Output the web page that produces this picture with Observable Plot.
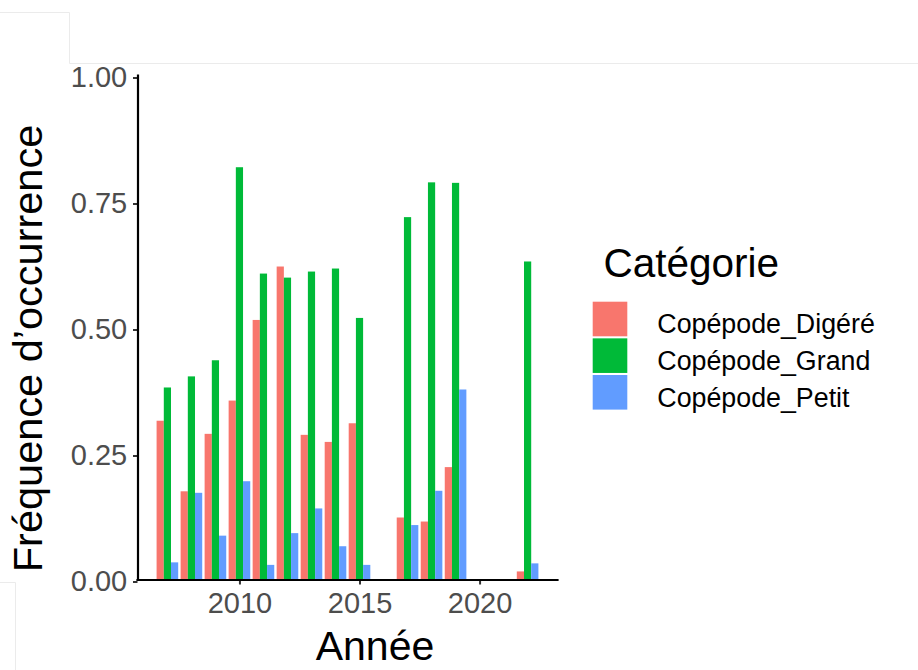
<!DOCTYPE html>
<html>
<head>
<meta charset="utf-8">
<script src="https://cdn.jsdelivr.net/npm/d3@7"></script>
<script src="https://cdn.jsdelivr.net/npm/@observablehq/plot@0.6"></script>
<style>
  html, body { margin: 0; padding: 0; background: #fff; }
  #chart { position: relative; width: 918px; height: 670px; overflow: hidden;
           font-family: "Liberation Sans", Arial, sans-serif; }
  #chart > svg { position: absolute; left: 0; top: 0; }
</style>
</head>
<body>
<div id="chart"></div>
<script>
// Fréquence d'occurrence des copépodes par année et par catégorie
const years = [2007, 2008, 2009, 2010, 2011, 2012, 2013, 2014, 2015, 2017, 2018, 2019, 2022];
const categories = ["Copépode_Digéré", "Copépode_Grand", "Copépode_Petit"];
const colors = ["#F8766D", "#00BA38", "#619CFF"];
const digere = [0.315, 0.175, 0.289, 0.355, 0.515, 0.621, 0.287, 0.273, 0.310, 0.123, 0.115, 0.223, 0.016];
const grand  = [0.381, 0.403, 0.435, 0.818, 0.607, 0.599, 0.611, 0.617, 0.519, 0.719, 0.788, 0.787, 0.631];
const petit  = [0.034, 0.172, 0.087, 0.195, 0.029, 0.092, 0.141, 0.066, 0.029, 0.108, 0.176, 0.377, 0.032];
const yTicks = [0, 0.25, 0.5, 0.75, 1];
const xTicks = [2010, 2015, 2020];

const series = [digere, grand, petit];

// Dodged bars: each year gets a 0.9-wide group split evenly between categories
const groupWidth = 0.9;
const barWidth = groupWidth / categories.length;
const rows = years.flatMap((year, j) => categories.map((cat, i) => ({
  year, cat, value: series[i][j],
  x1: year - groupWidth / 2 + i * barWidth,
  x2: year - groupWidth / 2 + (i + 1) * barWidth
})));

// Continuous x scale with 5% expansion around the bar extent
const lo = d3.min(years) - groupWidth / 2;
const hi = d3.max(years) + groupWidth / 2;
const pad = (hi - lo) * 0.05;

const W = 918, H = 670;
const chart = Plot.plot({
  width: W, height: H,
  marginLeft: 137.5, marginRight: 360.5, marginTop: 75.5, marginBottom: 90.5,
  style: { fontFamily: "'Liberation Sans', Arial, sans-serif", background: "transparent" },
  x: { domain: [lo - pad, hi + pad] },
  y: { domain: [0, 1] },
  color: { domain: categories, range: colors },
  marks: [
    Plot.rect(rows, { x1: "x1", x2: "x2", y1: 0, y2: "value", fill: "cat" }),
    Plot.axisX({ ticks: xTicks, tickFormat: d => String(d), tickSize: 5, tickPadding: 7,
                 fontSize: 29, fill: "#4D4D4D", stroke: "#333333", strokeWidth: 2, label: null }),
    Plot.axisY({ ticks: yTicks, tickFormat: d3.format(".2f"), tickSize: 4.5, tickPadding: 6.3, dy: 2,
                 fontSize: 29, fill: "#4D4D4D", stroke: "#333333", strokeWidth: 2, label: null }),
    Plot.ruleX([lo - pad], { stroke: "black", strokeWidth: 2.2, strokeLinecap: "square" }),
    Plot.ruleY([0], { stroke: "black", strokeWidth: 2.2, strokeLinecap: "square" })
  ]
});
document.getElementById("chart").appendChild(chart);

// Titles, legend and panel edges
const svg = d3.select("#chart").append("svg")
  .attr("width", W).attr("height", H)
  .style("font-family", "'Liberation Sans', Arial, sans-serif");

svg.append("path")
  .attr("d", "M0,12.5H69.5V63.5H918M0,582.5H15.5V670")
  .attr("fill", "none").attr("stroke", "#ebebeb").attr("stroke-width", 1);

svg.append("text")
  .attr("transform", "translate(42,348.5) rotate(-90)")
  .attr("text-anchor", "middle").attr("font-size", 41.5).attr("fill", "#000")
  .text("Fréquence d’occurrence");

svg.append("text")
  .attr("x", 375).attr("y", 660)
  .attr("text-anchor", "middle").attr("font-size", 41).attr("fill", "#000")
  .text("Année");

svg.append("text")
  .attr("x", 603.5).attr("y", 276.5)
  .attr("font-size", 40.5).attr("fill", "#000")
  .text("Catégorie");

const keySize = 34.6, keyStep = 36.65, keyTop = 301.7, keyLeft = 592.7;
const legend = svg.append("g").selectAll("g").data(categories).join("g")
  .attr("transform", (d, i) => `translate(0,${keyTop + i * keyStep})`);
legend.append("rect")
  .attr("x", keyLeft).attr("y", 0).attr("width", keySize).attr("height", keySize)
  .attr("fill", (d, i) => colors[i]);
legend.append("text")
  .attr("x", 657.3).attr("y", keySize / 2 + 14.5)
  .attr("font-size", 26.8).attr("fill", "#000")
  .text(d => d);
</script>
</body>
</html>
